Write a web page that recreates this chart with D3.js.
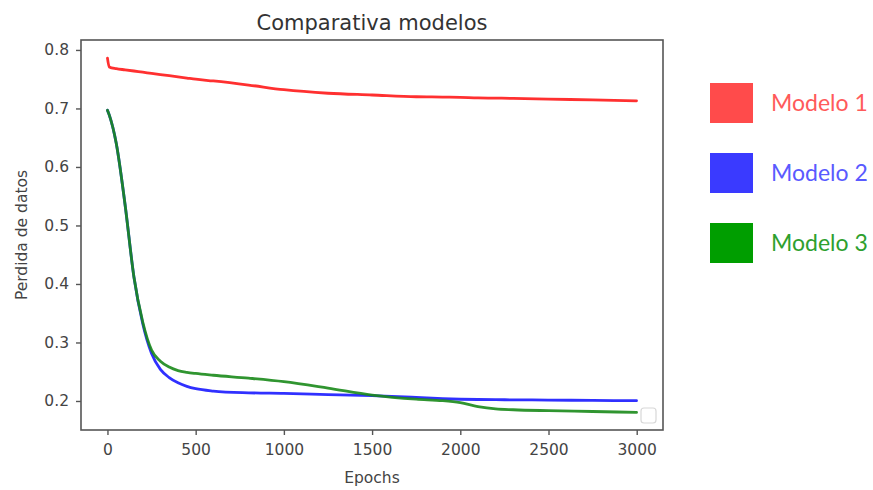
<!DOCTYPE html>
<html>
<head>
<meta charset="utf-8">
<script src="https://cdn.jsdelivr.net/npm/d3@7"></script>
<style>
  html, body { margin: 0; padding: 0; background: #fff; }
  svg { display: block; }
</style>
</head>
<body>
<svg id="chart" width="873" height="490"></svg>
<script>
// Training epochs at which the loss was sampled
const epochs = [0, 10, 50, 100, 150, 200, 250, 300, 350, 400, 450, 500, 600, 800, 1000, 1250, 1500, 1750, 1900, 2000, 2100, 2200, 2300, 2500, 2750, 2999];

// Loss per model
const modelo1 = [0.786, 0.771, 0.768, 0.766, 0.764, 0.762, 0.760, 0.758, 0.756, 0.754, 0.752, 0.750, 0.747, 0.740, 0.732, 0.726, 0.723, 0.720, 0.7195, 0.719, 0.718, 0.7177, 0.7172, 0.716, 0.7145, 0.713];
const modelo2 = [0.697, 0.689, 0.640, 0.535, 0.412, 0.332, 0.281, 0.254, 0.240, 0.231, 0.225, 0.221, 0.217, 0.214, 0.213, 0.211, 0.209, 0.206, 0.204, 0.203, 0.2025, 0.2022, 0.202, 0.2015, 0.201, 0.2005];
const modelo3 = [0.697, 0.689, 0.640, 0.535, 0.412, 0.335, 0.287, 0.268, 0.258, 0.252, 0.249, 0.247, 0.244, 0.239, 0.233, 0.222, 0.210, 0.203, 0.2005, 0.197, 0.1905, 0.1865, 0.185, 0.1834, 0.182, 0.1805];

const seriesNames = ["Modelo 1", "Modelo 2", "Modelo 3"];
const lineColors = ["#ff1a1a", "#1a1aff", "#1a8a1a"];
const swatchColors = ["#ff4b4b", "#3a3aff", "#009e00"];
const textColors = ["#ff5a5a", "#5a5aff", "#2ea02e"];

const xTicks = [0, 500, 1000, 1500, 2000, 2500, 3000];
const yTicks = [0.2, 0.3, 0.4, 0.5, 0.6, 0.7, 0.8];

const svg = d3.select("#chart");
const plotLeft = 81, plotRight = 663, plotTop = 40, plotBottom = 430;

const x = d3.scaleLinear().domain([-150, 3149]).range([plotLeft, plotRight]);
const y = d3.scaleLinear().domain([0.1504, 0.817]).range([plotBottom, plotTop]);

const tickFont = "'DejaVu Sans', sans-serif";

// Axes
const xAxis = svg.append("g")
  .attr("transform", `translate(0,${plotBottom})`)
  .call(d3.axisBottom(x).tickValues(xTicks).tickFormat(d3.format("d")).tickSize(5).tickPadding(9));
const yAxis = svg.append("g")
  .attr("transform", `translate(${plotLeft},0)`)
  .call(d3.axisLeft(y).tickValues(yTicks).tickFormat(d3.format(".1f")).tickSize(5).tickPadding(7));

[xAxis, yAxis].forEach(g => {
  g.select(".domain").remove();
  g.selectAll(".tick line").attr("stroke", "#555").attr("stroke-width", 1.4);
  g.selectAll(".tick text").attr("fill", "#444").style("font-family", tickFont).style("font-size", "15.5px");
});

// Plot frame
svg.append("rect")
  .attr("x", plotLeft).attr("y", plotTop)
  .attr("width", plotRight - plotLeft).attr("height", plotBottom - plotTop)
  .attr("fill", "none").attr("stroke", "#555").attr("stroke-width", 1.6);

// Loss curves
const line = d3.line()
  .x((d, i) => x(epochs[i]))
  .y(d => y(d))
  .curve(d3.curveMonotoneX);

[modelo1, modelo2, modelo3].forEach((s, k) => {
  svg.append("path")
    .datum(s)
    .attr("d", line)
    .attr("fill", "none")
    .attr("stroke", lineColors[k])
    .attr("stroke-width", 2.8)
    .attr("stroke-linejoin", "round")
    .attr("stroke-linecap", "round")
    .attr("opacity", 0.9);
});

// Empty legend frame inside the axes
svg.append("rect")
  .attr("x", 641).attr("y", 408).attr("width", 15).attr("height", 15)
  .attr("rx", 3)
  .attr("fill", "#fff").attr("stroke", "#d8d8d8").attr("stroke-width", 1.2);

// Title and axis labels
svg.append("text")
  .attr("x", (plotLeft + plotRight) / 2).attr("y", 30)
  .attr("text-anchor", "middle")
  .attr("fill", "#333")
  .style("font-family", tickFont).style("font-size", "21px")
  .text("Comparativa modelos");

svg.append("text")
  .attr("x", (plotLeft + plotRight) / 2).attr("y", 483)
  .attr("text-anchor", "middle")
  .attr("fill", "#444")
  .style("font-family", tickFont).style("font-size", "15.5px")
  .text("Epochs");

svg.append("text")
  .attr("transform", `translate(27,${(plotTop + plotBottom) / 2}) rotate(-90)`)
  .attr("text-anchor", "middle")
  .attr("fill", "#444")
  .style("font-family", tickFont).style("font-size", "15.5px")
  .text("Perdida de datos");

// Legend at the right
const legend = svg.append("g");
seriesNames.forEach((name, k) => {
  const cy = 103 + k * 70;
  legend.append("rect")
    .attr("x", 710).attr("y", cy - 20)
    .attr("width", 43).attr("height", 40)
    .attr("fill", swatchColors[k]);
  legend.append("text")
    .attr("x", 771).attr("y", cy + 8)
    .attr("fill", textColors[k])
    .style("font-family", "Lato, sans-serif").style("font-size", "23px")
    .text(name);
});
</script>
</body>
</html>
